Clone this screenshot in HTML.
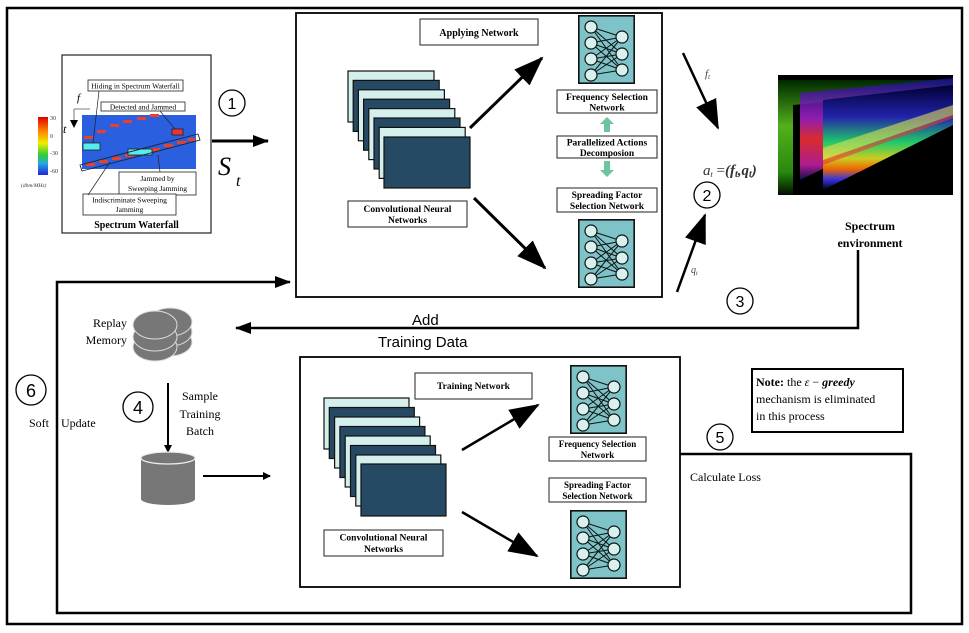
<!DOCTYPE html>
<html><head><meta charset="utf-8"><style>
html,body{margin:0;padding:0;background:#fff;}
svg{display:block;font-family:"Liberation Serif",serif;}
.b{font-weight:bold;}
</style></head><body>
<svg width="969" height="633" viewBox="0 0 969 633" xmlns="http://www.w3.org/2000/svg">
<defs>
<marker id="ah" markerWidth="8" markerHeight="8" refX="7" refY="4" orient="auto" markerUnits="userSpaceOnUse"><path d="M0,0 L8,4 L0,8 z" fill="#000"/></marker>
<marker id="ahb" markerWidth="30" markerHeight="22" refX="28" refY="11" orient="auto" markerUnits="userSpaceOnUse"><path d="M0,0 L30,11 L0,22 z" fill="#000"/></marker>
<marker id="ahm" markerWidth="16" markerHeight="12" refX="15" refY="6" orient="auto" markerUnits="userSpaceOnUse"><path d="M0,0 L16,6 L0,12 z" fill="#000"/></marker>
<symbol id="nn" viewBox="0 0 57 69" width="57" height="69">
<rect x="0.8" y="0.8" width="55.4" height="67.4" fill="#7dc3c8" stroke="#111" stroke-width="1.6"/>
<g stroke="#111" stroke-width="1">
<path d="M13,12 L44,22 M13,12 L44,39 M13,12 L44,55 M13,28 L44,22 M13,28 L44,39 M13,28 L44,55 M13,44 L44,22 M13,44 L44,39 M13,44 L44,55 M13,60 L44,22 M13,60 L44,39 M13,60 L44,55"/>
</g>
<g fill="#d8f1ef" stroke="#111" stroke-width="1.2">
<circle cx="13" cy="12" r="6"/><circle cx="13" cy="28" r="6"/><circle cx="13" cy="44" r="6"/><circle cx="13" cy="60" r="6"/>
<circle cx="44" cy="22" r="6"/><circle cx="44" cy="39" r="6"/><circle cx="44" cy="55" r="6"/>
</g>
</symbol>
<linearGradient id="cb" x1="0" y1="0" x2="0" y2="1">
<stop offset="0" stop-color="#d00"/><stop offset="0.25" stop-color="#f80"/><stop offset="0.45" stop-color="#ee0"/><stop offset="0.65" stop-color="#3c3"/><stop offset="0.8" stop-color="#2ad"/><stop offset="1" stop-color="#22d"/>
</linearGradient>
<linearGradient id="sp1" x1="0" y1="0" x2="0" y2="1">
<stop offset="0" stop-color="#003"/><stop offset="0.3" stop-color="#22a"/><stop offset="0.55" stop-color="#2c6"/><stop offset="0.7" stop-color="#cc2"/><stop offset="0.8" stop-color="#e60"/><stop offset="0.9" stop-color="#33d"/><stop offset="1" stop-color="#001"/>
</linearGradient>
<linearGradient id="sp0" x1="0" y1="0" x2="0" y2="1">
<stop offset="0" stop-color="#030"/><stop offset="0.4" stop-color="#6d2"/><stop offset="0.8" stop-color="#3a1"/><stop offset="1" stop-color="#010"/>
</linearGradient>
<linearGradient id="spm" x1="0" y1="0" x2="0" y2="1">
<stop offset="0" stop-color="#118"/><stop offset="0.4" stop-color="#a2c"/><stop offset="0.6" stop-color="#f33"/><stop offset="0.85" stop-color="#c2a"/><stop offset="1" stop-color="#115"/>
</linearGradient>
</defs>

<!-- outer border -->
<rect x="7" y="8" width="955" height="616" fill="none" stroke="#000" stroke-width="2.5"/>

<!-- spectrum waterfall box -->
<rect x="62" y="55" width="149" height="178" fill="#fff" stroke="#222" stroke-width="1.2"/>
<rect x="82" y="115" width="114" height="54" fill="#2a5fe0"/>
<g fill="#e8402a">
<rect x="84" y="136" width="9" height="3"/><rect x="97" y="130" width="9" height="3"/><rect x="110" y="124" width="9" height="3"/><rect x="123" y="120" width="9" height="3"/><rect x="137" y="117" width="9" height="3"/><rect x="150" y="114" width="9" height="3"/>
<rect x="86" y="163" width="9" height="3"/><rect x="99" y="160" width="9" height="3"/><rect x="112" y="157" width="9" height="3"/><rect x="125" y="154" width="9" height="3"/><rect x="138" y="151" width="9" height="3"/><rect x="151" y="148" width="9" height="3"/><rect x="164" y="144" width="9" height="3"/><rect x="177" y="141" width="9" height="3"/><rect x="188" y="138" width="7" height="3"/>
</g>
<rect x="83" y="143" width="17" height="7" fill="#5ee" stroke="#222" stroke-width="0.8"/>
<rect x="128" y="149" width="24" height="6" fill="#5ee" stroke="#222" stroke-width="0.8"/>
<rect x="172" y="129" width="11" height="6" fill="#e33" stroke="#222" stroke-width="0.8"/>
<polygon points="80,165 198,134 200,140 82,171" fill="none" stroke="#222" stroke-width="0.9"/>
<rect x="38" y="117" width="10" height="58" fill="url(#cb)"/>
<g font-size="6" fill="#333"><text x="50" y="120">30</text><text x="50" y="138">0</text><text x="50" y="155">-30</text><text x="50" y="173">-60</text><text x="21" y="187" font-style="italic" font-size="5.5">(dbm/MHz)</text></g>
<text x="77" y="101" font-size="11" font-style="italic">f</text>
<text x="63" y="133" font-size="12" font-style="italic">t</text>
<path d="M74,109 L90,109 M74,109 L74,127" stroke="#555" stroke-width="0.8" fill="none" marker-end="url(#ah)"/>
<rect x="88" y="80" width="95" height="11" fill="#fff" stroke="#222" stroke-width="0.8"/>
<text x="135.5" y="88.5" font-size="7.5" text-anchor="middle">Hiding in Spectrum Waterfall</text>
<rect x="101" y="102" width="84" height="9" fill="#fff" stroke="#222" stroke-width="0.8"/>
<text x="143" y="109.5" font-size="7.5" text-anchor="middle">Detected and Jammed</text>
<rect x="119" y="172" width="77" height="23" fill="#fff" stroke="#222" stroke-width="0.8"/>
<text x="157.5" y="181" font-size="7.5" text-anchor="middle">Jammed by</text>
<text x="157.5" y="191" font-size="7.5" text-anchor="middle">Sweeping Jamming</text>
<rect x="83" y="194" width="93" height="21" fill="#fff" stroke="#222" stroke-width="0.8"/>
<text x="129.5" y="202.5" font-size="7.5" text-anchor="middle">Indiscriminate Sweeping</text>
<text x="129.5" y="212" font-size="7.5" text-anchor="middle">Jamming</text>
<g stroke="#222" stroke-width="0.7"><path d="M99,91 L93,143"/><path d="M160,111 L175,129"/><path d="M158,155 L160,172"/><path d="M110,162 L88,195"/></g>
<text x="136.5" y="228" font-size="10" class="b" text-anchor="middle">Spectrum Waterfall</text>

<circle cx="232" cy="103" r="13" fill="none" stroke="#000" stroke-width="1.3"/>
<text x="232" y="109" font-size="16" font-family="Liberation Sans,sans-serif" text-anchor="middle">1</text>
<line x1="212" y1="141" x2="268" y2="141" stroke="#000" stroke-width="3" marker-end="url(#ahm)"/>
<text x="218" y="175" font-size="26" font-style="italic">S</text><text x="236" y="186" font-size="16" font-style="italic">t</text>

<!-- applying network -->
<rect x="296" y="13" width="366" height="284" fill="#fff" stroke="#000" stroke-width="1.8"/>
<rect x="420" y="19" width="118" height="26" fill="#fff" stroke="#222" stroke-width="1"/>
<text x="479" y="36" font-size="10" class="b" text-anchor="middle">Applying Network</text>
<g stroke="#111" stroke-width="1.2">
<rect x="348" y="71" width="86" height="51" fill="#d4efec"/>
<rect x="353.2" y="80.4" width="86" height="51" fill="#264a63"/>
<rect x="358.4" y="89.8" width="86" height="51" fill="#d4efec"/>
<rect x="363.6" y="99.2" width="86" height="51" fill="#264a63"/>
<rect x="368.8" y="108.6" width="86" height="51" fill="#d4efec"/>
<rect x="374" y="118" width="86" height="51" fill="#264a63"/>
<rect x="379.2" y="127.4" width="86" height="51" fill="#d4efec"/>
<rect x="384" y="137" width="86" height="51" fill="#264a63"/>
</g>
<rect x="348" y="201" width="119" height="26" fill="#fff" stroke="#222" stroke-width="1"/>
<text x="407.5" y="212" font-size="9.5" class="b" text-anchor="middle">Convolutional Neural</text>
<text x="407.5" y="223" font-size="9.5" class="b" text-anchor="middle">Networks</text>
<line x1="470" y1="128" x2="542" y2="58" stroke="#000" stroke-width="3" marker-end="url(#ahb)"/>
<line x1="474" y1="198" x2="545" y2="268" stroke="#000" stroke-width="3" marker-end="url(#ahb)"/>
<use href="#nn" x="578" y="15"/>
<use href="#nn" x="578" y="219"/>
<rect x="557" y="90" width="100" height="23" fill="#fff" stroke="#222" stroke-width="1"/>
<text x="607" y="100" font-size="9.5" class="b" text-anchor="middle">Frequency Selection</text>
<text x="607" y="110.5" font-size="9.5" class="b" text-anchor="middle">Network</text>
<rect x="557" y="136" width="100" height="22" fill="#fff" stroke="#222" stroke-width="1"/>
<text x="607" y="145.5" font-size="9.5" class="b" text-anchor="middle">Parallelized Actions</text>
<text x="607" y="156" font-size="9.5" class="b" text-anchor="middle">Decomposion</text>
<rect x="557" y="188" width="100" height="24" fill="#fff" stroke="#222" stroke-width="1"/>
<text x="607" y="198" font-size="9.5" class="b" text-anchor="middle">Spreading Factor</text>
<text x="607" y="209" font-size="9.5" class="b" text-anchor="middle">Selection Network</text>
<polygon points="607,117 614,124 610,124 610,132 604,132 604,124 600,124" fill="#6cc59e"/>
<polygon points="607,177 614,170 610,170 610,161 604,161 604,170 600,170" fill="#6cc59e"/>

<!-- right side -->
<line x1="683" y1="53" x2="718" y2="128" stroke="#000" stroke-width="2.5" marker-end="url(#ahb)"/>
<text x="705" y="77" font-size="11" font-style="italic" fill="#444">f<tspan font-size="7" dy="2">t</tspan></text>
<text x="703" y="175" font-size="15" font-style="italic" fill="#333">a<tspan font-size="8" dy="2">t</tspan><tspan dy="-2" font-style="normal"> =</tspan><tspan class="b" font-size="15">(f<tspan font-size="10" dy="2">t</tspan><tspan dy="-2">,q</tspan><tspan font-size="10" dy="2">t</tspan><tspan dy="-2">)</tspan></tspan></text>
<circle cx="707" cy="195" r="13" fill="none" stroke="#000" stroke-width="1.3"/>
<text x="707" y="201" font-size="16" font-family="Liberation Sans,sans-serif" text-anchor="middle">2</text>
<line x1="677" y1="292" x2="705" y2="215" stroke="#000" stroke-width="2.5" marker-end="url(#ahb)"/>
<text x="691" y="273" font-size="10" font-style="italic" fill="#444">q<tspan font-size="6" dy="2">t</tspan></text>

<!-- spectrum image -->
<rect x="778" y="75" width="175" height="120" fill="#000"/>
<polygon points="778,80 953,80 953,90 793,105 793,195 778,195" fill="url(#sp0)" opacity="0.8"/>
<polygon points="800,93 953,78 953,105 800,180" fill="url(#spm)" opacity="0.85"/>
<polygon points="823,100 953,85 953,125 823,190" fill="url(#sp1)"/>
<polygon points="823,148 953,105 953,115 823,160" fill="#dd5" opacity="0.6"/>
<polygon points="823,160 953,115 953,118 823,165" fill="#e33" opacity="0.6"/>
<text x="870" y="230" font-size="12" class="b" text-anchor="middle">Spectrum</text>
<text x="870" y="247" font-size="12" class="b" text-anchor="middle">environment</text>

<!-- feedback line -->
<polyline points="858,250 858,328 236,328" fill="none" stroke="#000" stroke-width="2.5" marker-end="url(#ahm)"/>
<circle cx="740" cy="301" r="13" fill="none" stroke="#000" stroke-width="1.3"/>
<text x="740" y="307" font-size="16" font-family="Liberation Sans,sans-serif" text-anchor="middle">3</text>
<text x="412" y="325" font-size="15" font-family="Liberation Sans,sans-serif">Add</text>
<text x="378" y="347" font-size="15" font-family="Liberation Sans,sans-serif">Training Data</text>

<!-- soft update loop -->
<polyline points="680,454 911,454 911,613 57,613 57,282 290,282" fill="none" stroke="#000" stroke-width="2.5" marker-end="url(#ahm)"/>
<circle cx="31" cy="390" r="15" fill="none" stroke="#000" stroke-width="1.3"/>
<text x="31" y="397" font-size="18" font-family="Liberation Sans,sans-serif" text-anchor="middle">6</text>
<text x="29" y="427" font-size="12">Soft</text><text x="61" y="427" font-size="12">Update</text>

<!-- replay memory -->
<g fill="#777" stroke="#ddd" stroke-width="1">
<ellipse cx="170" cy="342" rx="22" ry="14"/>
<ellipse cx="170" cy="332" rx="22" ry="14"/>
<ellipse cx="170" cy="322" rx="22" ry="14"/>
<ellipse cx="155" cy="347" rx="22" ry="14"/>
<ellipse cx="155" cy="337" rx="22" ry="14"/>
<ellipse cx="155" cy="325" rx="22" ry="14"/>
</g>
<text x="127" y="327" font-size="12" text-anchor="end">Replay</text>
<text x="127" y="344" font-size="12" text-anchor="end">Memory</text>
<line x1="168" y1="383" x2="168" y2="452" stroke="#000" stroke-width="2" marker-end="url(#ah)"/>
<circle cx="138" cy="407" r="15" fill="none" stroke="#000" stroke-width="1.3"/>
<text x="138" y="414" font-size="18" font-family="Liberation Sans,sans-serif" text-anchor="middle">4</text>
<text x="200" y="400" font-size="12" text-anchor="middle">Sample</text>
<text x="200" y="418" font-size="12" text-anchor="middle">Training</text>
<text x="200" y="435" font-size="12" text-anchor="middle">Batch</text>
<path d="M141,458 L141,499 A27,6 0 0 0 195,499 L195,458 Z" fill="#777"/>
<ellipse cx="168" cy="458" rx="27" ry="6" fill="#777" stroke="#eee" stroke-width="1.2"/>
<line x1="203" y1="476" x2="270" y2="476" stroke="#000" stroke-width="2" marker-end="url(#ah)"/>

<!-- training network -->
<rect x="300" y="357" width="380" height="230" fill="#fff" stroke="#000" stroke-width="1.8"/>
<rect x="415" y="373" width="117" height="26" fill="#fff" stroke="#222" stroke-width="1"/>
<text x="473.5" y="389" font-size="9.5" class="b" text-anchor="middle">Training Network</text>
<g stroke="#111" stroke-width="1.2">
<rect x="324" y="398" width="85" height="51" fill="#d4efec"/>
<rect x="329.3" y="407.5" width="85" height="51" fill="#264a63"/>
<rect x="334.6" y="417" width="85" height="51" fill="#d4efec"/>
<rect x="339.9" y="426.5" width="85" height="51" fill="#264a63"/>
<rect x="345.2" y="436" width="85" height="51" fill="#d4efec"/>
<rect x="350.5" y="445.5" width="85" height="51" fill="#264a63"/>
<rect x="355.8" y="455" width="85" height="51" fill="#d4efec"/>
<rect x="361" y="464" width="85" height="52" fill="#264a63"/>
</g>
<rect x="324" y="530" width="119" height="26" fill="#fff" stroke="#222" stroke-width="1"/>
<text x="383.5" y="540.5" font-size="9.5" class="b" text-anchor="middle">Convolutional Neural</text>
<text x="383.5" y="552" font-size="9.5" class="b" text-anchor="middle">Networks</text>
<line x1="462" y1="450" x2="538" y2="405" stroke="#000" stroke-width="2.5" marker-end="url(#ahb)"/>
<line x1="462" y1="512" x2="537" y2="556" stroke="#000" stroke-width="2.5" marker-end="url(#ahb)"/>
<use href="#nn" x="570" y="365"/>
<use href="#nn" x="570" y="510"/>
<rect x="549" y="437" width="97" height="24" fill="#fff" stroke="#222" stroke-width="1"/>
<text x="597.5" y="447" font-size="9" class="b" text-anchor="middle">Frequency Selection</text>
<text x="597.5" y="458" font-size="9" class="b" text-anchor="middle">Network</text>
<rect x="549" y="478" width="97" height="24" fill="#fff" stroke="#222" stroke-width="1"/>
<text x="597.5" y="488" font-size="9" class="b" text-anchor="middle">Spreading Factor</text>
<text x="597.5" y="499" font-size="9" class="b" text-anchor="middle">Selection Network</text>

<!-- calculate loss & note -->
<text x="690" y="481" font-size="12">Calculate Loss</text>
<circle cx="720" cy="437" r="13" fill="none" stroke="#000" stroke-width="1.3"/>
<text x="720" y="443" font-size="16" font-family="Liberation Sans,sans-serif" text-anchor="middle">5</text>
<rect x="752" y="369" width="151" height="63" fill="#fff" stroke="#000" stroke-width="2"/>
<text x="756" y="386" font-size="12"><tspan class="b">Note:</tspan> the <tspan font-style="italic">ε</tspan> − <tspan class="b" font-style="italic">greedy</tspan></text>
<text x="756" y="403" font-size="12">mechanism is eliminated</text>
<text x="756" y="420" font-size="12">in this process</text>
</svg>
</body></html>
